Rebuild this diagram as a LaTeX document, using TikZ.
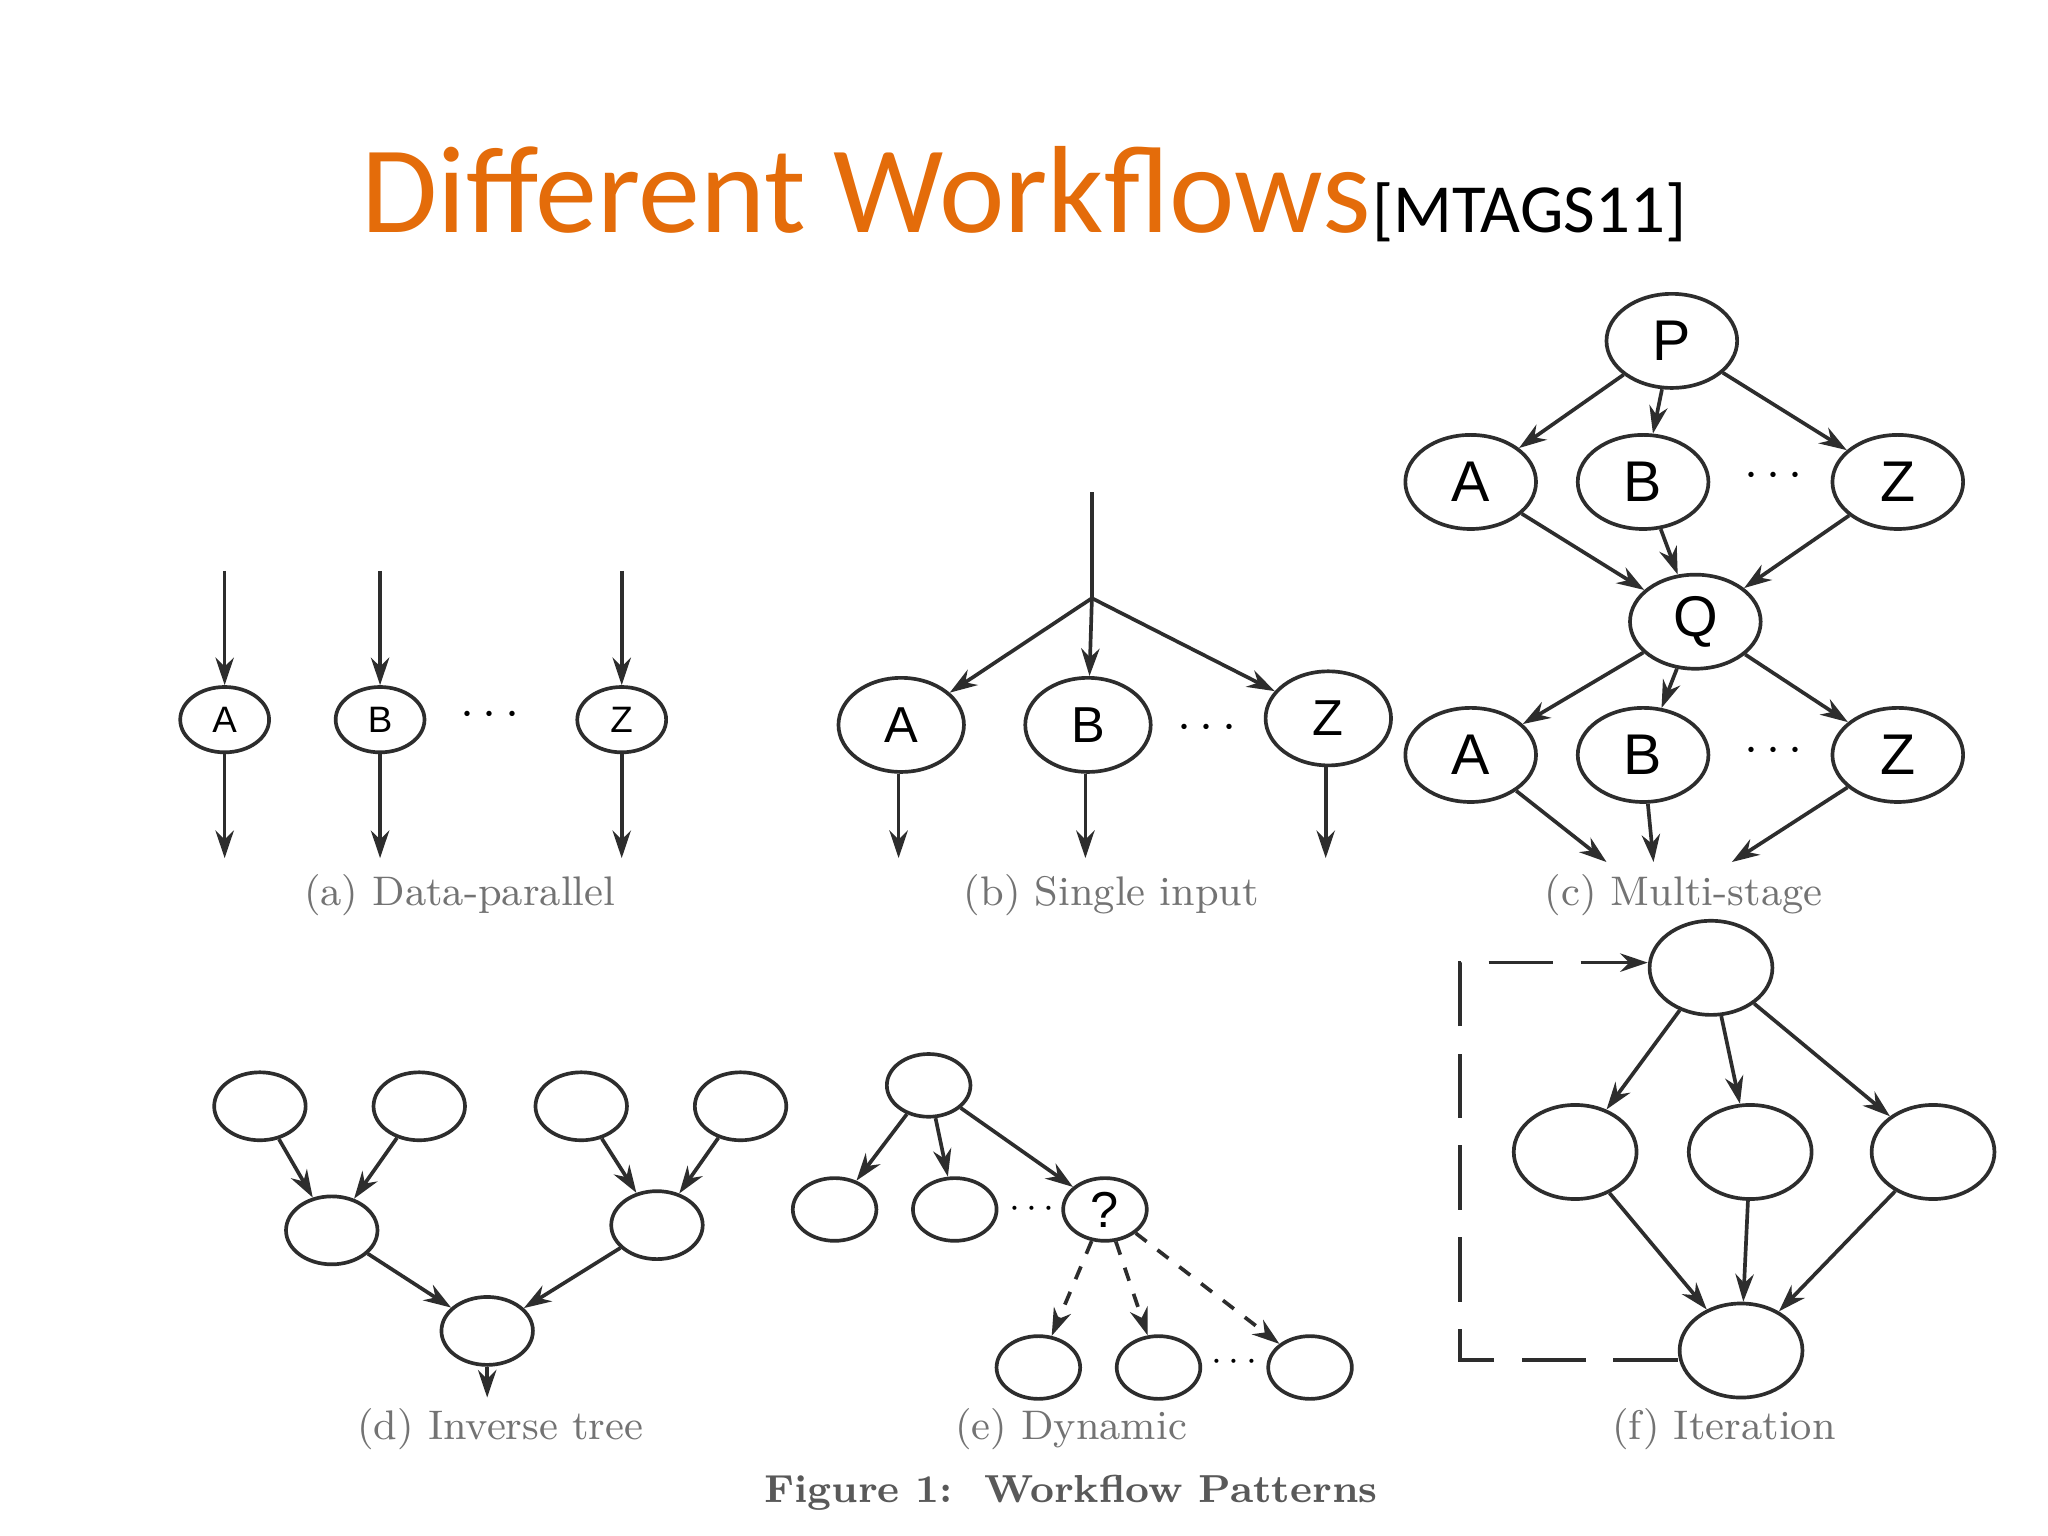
\documentclass[tikz,border=0pt]{standalone}
\usepackage{fontspec}
\setmainfont{Latin Modern Roman}
\newfontfamily\carl{Carlito}
\newfontfamily\arl{Liberation Sans}
\usetikzlibrary{shapes.geometric,arrows.meta}
\definecolor{ttl}{RGB}{228,108,10}
\definecolor{ln}{RGB}{45,45,45}
\begin{document}
\begin{tikzpicture}[x=0.01cm,y=-0.01cm,
  lnk/.style={draw=ln,line width=0.8pt},
  arr/.style={lnk,-{Stealth[length=6pt,width=4pt]}},
  nd/.style={ellipse,draw=ln,line width=0.8pt,inner sep=0pt,font=\arl},
  na/.style={nd,minimum width=0.68cm,minimum height=0.50cm,font=\arl\fontsize{8}{8}\selectfont},
  nb/.style={nd,minimum width=0.96cm,minimum height=0.72cm,font=\arl\fontsize{11}{11}\selectfont},
  nc/.style={nd,minimum width=1.0cm,minimum height=0.72cm,font=\arl\fontsize{12.5}{12.5}\selectfont},
  ndd/.style={nd,minimum width=0.70cm,minimum height=0.52cm},
  ne/.style={nd,minimum width=0.64cm,minimum height=0.48cm,font=\arl\fontsize{11}{11}\selectfont},
  nf/.style={nd,minimum width=0.94cm,minimum height=0.72cm},
  capt/.style={text=black!55,font=\fontsize{9}{9}\selectfont},
  dots/.style={font=\arl\bfseries\fontsize{11}{11}\selectfont}]
\useasboundingbox[fill=white] (0,0) rectangle (1568,1176);
% title
\node[anchor=base west,inner sep=0,text=ttl,font=\carl\fontsize{27}{27}\selectfont] (t) at (276,178) {Different Workflows};
\node[anchor=base west,inner sep=0,font=\carl\fontsize{15}{15}\selectfont] (t2) at (t.base east) {[MTAGS11]};
% (a)
\foreach \n/\x/\l in {aA/172/A,aB/291/B,aZ/476/Z}{
  \node[na] (\n) at (\x,551) {\l};
  \coordinate (\n i) at (\x,437); \coordinate (\n o) at (\x,657);
  \draw[arr] (\n i) -- (\n); \draw[arr] (\n) -- (\n o);}
\node[dots] (ad) at (375,548) {$\cdots$};
\node[capt] (ca) at (352,685) {(a) Data-parallel};
% (b)
\coordinate (bi) at (836,377); \coordinate (bj) at (836,458);
\draw[lnk] (bi) -- (bj);
\foreach \n/\x/\y/\l in {bA/690/555/A,bB/833/555/B,bZ/1017/550/Z}{
  \node[nb] (\n) at (\x,\y) {\l};
  \draw[arr] (bj) -- (\n);
  \coordinate (\n o) at (\x-2,657);
  \draw[arr] (\n.south -| \n o) -- (\n o);}
\node[dots] (bd) at (924,558) {$\cdots$};
\node[capt] (cb) at (851,685) {(b) Single input};
% (c)
\node[nc] (P) at (1280,261) {P};
\node[nc] (cA) at (1126,369) {A};
\node[nc] (cB) at (1258,369) {B};
\node[nc] (cZ) at (1453,369) {Z};
\node[dots] (cd1) at (1358,365) {$\cdots$};
\node[nc] (Q) at (1298,476) {Q};
\node[nc] (dA) at (1126,578) {A};
\node[nc] (dB) at (1258,578) {B};
\node[nc] (dZ) at (1453,578) {Z};
\node[dots] (cd2) at (1358,575) {$\cdots$};
\foreach \n in {cA,cB,cZ}{\draw[arr] (P) -- (\n); \draw[arr] (\n) -- (Q);}
\foreach \n in {dA,dB,dZ}{\draw[arr] (Q) -- (\n);}
\coordinate (o1) at (1230,660); \coordinate (o2) at (1266,660); \coordinate (o3) at (1326,660);
\draw[arr] (dA) -- (o1); \draw[arr] (dB) -- (o2); \draw[arr] (dZ) -- (o3);
\node[capt] (cc) at (1289,685) {(c) Multi-stage};
% (d)
\node[ndd] (d1) at (199,847) {}; \node[ndd] (d2) at (321,847) {};
\node[ndd] (d3) at (445,847) {}; \node[ndd] (d4) at (567,847) {};
\node[ndd] (d5) at (254,942) {}; \node[ndd] (d6) at (503,938) {};
\node[ndd] (d7) at (373,1019) {};
\coordinate (d8) at (373,1070);
\draw[arr] (d1) -- (d5); \draw[arr] (d2) -- (d5);
\draw[arr] (d3) -- (d6); \draw[arr] (d4) -- (d6);
\draw[arr] (d5) -- (d7); \draw[arr] (d6) -- (d7);
\draw[arr] (d7) -- (d8);
\node[capt] (cdd) at (383,1094) {(d) Inverse tree};
% (e)
\node[ne] (e0) at (711,831) {};
\node[ne] (e1) at (639,926) {}; \node[ne] (e2) at (731,926) {};
\node[ne] (e3) at (846,926) {?};
\node (ed1) at (790,926) {\fontsize{8}{8}\selectfont$\cdots$};
\node[ne] (e4) at (795,1047) {}; \node[ne] (e5) at (887,1047) {};
\node[ne] (e6) at (1003,1047) {};
\node (ed2) at (945,1043) {\fontsize{8}{8}\selectfont$\cdots$};
\draw[arr] (e0) -- (e1); \draw[arr] (e0) -- (e2); \draw[arr] (e0) -- (e3);
\foreach \n in {e4,e5,e6}{\draw[arr,dashed] (e3) -- (\n);}
\node[capt] (ce) at (820,1094) {(e) Dynamic};
% (f)
\node[nf] (f0) at (1310,741) {};
\node[nf] (f1) at (1206,882) {}; \node[nf] (f2) at (1340,882) {};
\node[nf] (f3) at (1480,882) {};
\node[nf] (f4) at (1333,1034) {};
\foreach \n in {f1,f2,f3}{\draw[arr] (f0) -- (\n); \draw[arr] (\n) -- (f4);}
\draw[arr,dash pattern=on 14pt off 6pt] (f4.west |- 0,1041) -- (1118,1041) -- (1118,737) -- (f0.west |- 0,737);
\node[capt] (cf) at (1320,1094) {(f) Iteration};
\node[text=black!65,font=\bfseries\fontsize{8.5}{8.5}\selectfont] (fig) at (820,1143) {Figure 1:\ \ Workflow Patterns};
\end{tikzpicture}
\end{document}
